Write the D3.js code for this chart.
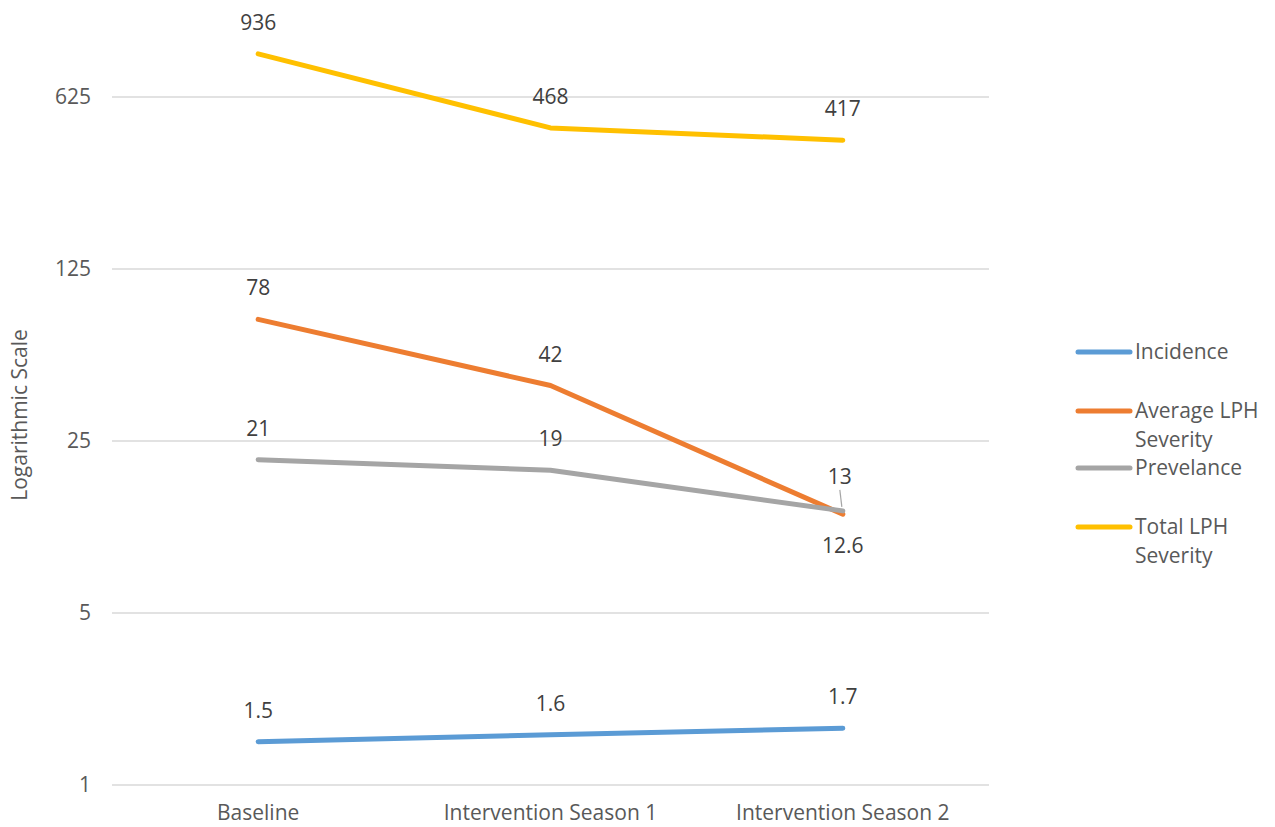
<!DOCTYPE html>
<html>
<head>
<meta charset="utf-8">
<script src="https://cdn.jsdelivr.net/npm/d3@7"></script>
<style>
  html, body { margin: 0; padding: 0; background: #fff; }
  svg text { font-family: "Open Sans", Lato, sans-serif; }
</style>
</head>
<body>
<svg id="chart" width="1275" height="827"></svg>
<script>
// Categories along the x axis
const categories = ["Baseline", "Intervention Season 1", "Intervention Season 2"];

// Series values (log scale, base 5)
const incidence   = [1.5, 1.6, 1.7];
const avgSeverity = [78, 42, 12.6];
const prevalence  = [21, 19, 13];
const totalSeverity = [936, 468, 417];

// Tick labels for the y axis
const yTicks = [1, 5, 25, 125, 625];

const seriesNames  = ["Incidence", "Average LPH Severity", "Prevelance", "Total LPH Severity"];
const seriesColors = ["#5b9bd5", "#ed7d31", "#a5a5a5", "#ffc000"];
const seriesValues = [incidence, avgSeverity, prevalence, totalSeverity];

const series = seriesNames.map((name, i) => ({
  name, color: seriesColors[i], values: seriesValues[i]
}));

const FS = 21;
const svg = d3.select("#chart");
const left = 112, right = 989;

const x = d3.scalePoint()
  .domain(categories)
  .range([left, right])
  .padding(0.5);

const y = d3.scaleLog()
  .base(5)
  .domain([1, 625])
  .range([785, 97]);

// Horizontal gridlines
svg.append("g")
  .selectAll("line")
  .data(yTicks)
  .join("line")
  .attr("x1", left).attr("x2", right)
  .attr("y1", d => y(d)).attr("y2", d => y(d))
  .attr("stroke", "#d9d9d9")
  .attr("stroke-width", 1.3);

// Y tick labels
svg.append("g")
  .selectAll("text")
  .data(yTicks)
  .join("text")
  .attr("x", 91)
  .attr("y", d => y(d))
  .attr("dy", "0.35em")
  .attr("text-anchor", "end")
  .attr("font-size", FS)
  .attr("fill", "#595959")
  .text(d => d);

// X category labels
svg.append("g")
  .selectAll("text")
  .data(categories)
  .join("text")
  .attr("x", d => x(d))
  .attr("y", 820)
  .attr("text-anchor", "middle")
  .attr("font-size", FS)
  .attr("fill", "#595959")
  .text(d => d);

// Y axis title
svg.append("text")
  .attr("transform", "translate(27,415) rotate(-90)")
  .attr("text-anchor", "middle")
  .attr("font-size", FS)
  .attr("fill", "#595959")
  .text("Logarithmic Scale");

// Series lines
const line = d3.line()
  .x((d, i) => x(categories[i]))
  .y(d => y(d));

svg.append("g")
  .selectAll("path")
  .data(series)
  .join("path")
  .attr("d", d => line(d.values))
  .attr("fill", "none")
  .attr("stroke", d => d.color)
  .attr("stroke-width", 5)
  .attr("stroke-linecap", "round")
  .attr("stroke-linejoin", "round");

// Data labels: above each point, except the last orange point which sits below
const labels = [];
series.forEach((s, si) => {
  s.values.forEach((v, i) => {
    let dx = 0, dy = -24;
    if (si === 1 && i === 2) { dy = 39; }
    if (si === 2 && i === 2) { dx = -3; dy = -27; }
    labels.push({ v, cx: x(categories[i]), cy: y(v), dx, dy, si, i });
  });
});

// Leader line for the crowded last prevalence label
const prevLast = labels.find(l => l.si === 2 && l.i === 2);
svg.append("line")
  .attr("x1", prevLast.cx - 1).attr("y1", prevLast.cy - 4)
  .attr("x2", prevLast.cx - 3).attr("y2", prevLast.cy - 21)
  .attr("stroke", "#a5a5a5")
  .attr("stroke-width", 1.2);

svg.append("g")
  .selectAll("text")
  .data(labels)
  .join("text")
  .attr("x", d => d.cx + d.dx)
  .attr("y", d => d.cy + d.dy)
  .attr("text-anchor", "middle")
  .attr("font-size", FS)
  .attr("fill", "#404040")
  .text(d => d.v);

// Legend
const legendRows = [
  { lines: ["Incidence"], y: 352 },
  { lines: ["Average LPH", "Severity"], y: 411 },
  { lines: ["Prevelance"], y: 468 },
  { lines: ["Total LPH", "Severity"], y: 527 }
];
const lg = svg.append("g");
series.forEach((s, i) => {
  const r = legendRows[i];
  lg.append("line")
    .attr("x1", 1078).attr("x2", 1130)
    .attr("y1", r.y).attr("y2", r.y)
    .attr("stroke", s.color)
    .attr("stroke-width", 5)
    .attr("stroke-linecap", "round");
  const t = lg.append("text")
    .attr("x", 1135)
    .attr("y", r.y)
    .attr("font-size", FS)
    .attr("fill", "#595959");
  r.lines.forEach((ln, k) => {
    t.append("tspan")
      .attr("x", 1135)
      .attr("dy", k === 0 ? "0.35em" : 29)
      .text(ln);
  });
});
</script>
</body>
</html>
